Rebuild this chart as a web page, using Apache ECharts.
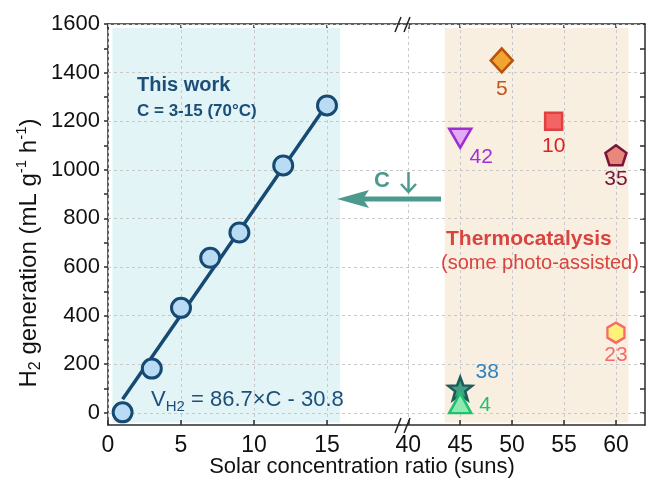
<!DOCTYPE html>
<html>
<head>
<meta charset="utf-8">
<script src="https://cdn.jsdelivr.net/npm/echarts@6/dist/echarts.min.js"></script>
<style>
  html, body { margin: 0; padding: 0; background: #fff; }
  #chart { width: 646px; height: 479px; }
</style>
</head>
<body>
<div id="chart"></div>
<script>
// this work: concentration ratio C vs H2 rate
const workC = [1, 3, 5, 7, 9, 12, 15];
const workV = [2, 182, 432, 638, 742, 1018, 1265];
// end points of the linear fit
const fitC = [1, 15];
const fitV = [56, 1270];
// literature points (thermocatalysis), ref numbers as labels
const refLabels = ['5', '10', '42', '35', '23', '38', '4'];
const refC = [49, 54, 45, 60, 60, 45, 45];
const refV = [1450, 1200, 1130, 1060, 330, 100, 40];
// ticks
const yMajor = [0, 200, 400, 600, 800, 1000, 1200, 1400, 1600];
const yAll = [0, 100, 200, 300, 400, 500, 600, 700, 800, 900, 1000, 1100, 1200, 1300, 1400, 1500, 1600];
const xTicksLeft = [0, 5, 10, 15];
const xTicksRight = [40, 45, 50, 55, 60];

const FONT = '"Liberation Sans", Arial, sans-serif';
const AXIS = '#2b2b2b';
const GRIDLINE = { show: true, lineStyle: { color: '#c9c9c9', type: [3, 3], width: 1 } };
const AXISLINE = { show: true, onZero: false, lineStyle: { color: AXIS, width: 1.5 } };
const plain = function (v) { return String(v); };

const starPath = 'path://M0,-1 L0.247,-0.34 L0.951,-0.309 L0.399,0.13 L0.588,0.809 L0,0.42 L-0.588,0.809 L-0.399,0.13 L-0.951,-0.309 L-0.247,-0.34 Z';
const pentPath = 'path://M0,-1 L0.951,-0.309 L0.588,0.809 L-0.588,0.809 L-0.951,-0.309 Z';
const hexPath = 'path://M0,-1 L0.866,-0.5 L0.866,0.5 L0,1 L-0.866,0.5 L-0.866,-0.5 Z';

const refStyle = [
  { symbol: 'diamond', size: [22, 24], rot: 0, fill: '#f2a433', stroke: '#b8520f', txt: '#c0561b', off: [0, 29] },
  { symbol: 'rect', size: [17, 17], rot: 0, fill: '#f46464', stroke: '#e0403e', txt: '#e01f1f', off: [0, 25] },
  { symbol: 'triangle', size: [22, 19], rot: 180, fill: '#e5aaf6', stroke: '#9d2fd2', txt: '#a12fd6', off: [21, 19] },
  { symbol: pentPath, size: [21, 20], rot: 0, fill: '#e8877c', stroke: '#7a1538', txt: '#7a1538', off: [0, 24] },
  { symbol: hexPath, size: [17, 20], rot: 0, fill: '#fff27a', stroke: '#f76a6a', txt: '#f76a6a', off: [0, 23] },
  { symbol: starPath, size: [24, 23], rot: 0, fill: '#3e9f82', stroke: '#1d5b5b', txt: '#2e82c4', off: [27, -16] },
  { symbol: 'triangle', size: [22, 20], rot: 0, fill: '#8fe9b2', stroke: '#1fc070', txt: '#1fc070', off: [25, 2] }
];

const chart = echarts.init(document.getElementById('chart'));

const refSeries = refLabels.map(function (lab, i) {
  const s = refStyle[i];
  const ser = {
    type: 'scatter',
    xAxisIndex: 2, yAxisIndex: 2,
    z: 3,
    symbol: s.symbol,
    symbolSize: s.size,
    symbolRotate: s.rot,
    itemStyle: { color: s.fill, borderColor: s.stroke, borderWidth: 2.5, opacity: 1 },
    label: {
      show: true, position: 'inside', offset: s.off,
      formatter: lab, color: s.txt, fontSize: 21, fontFamily: FONT
    },
    emphasis: { disabled: true },
    data: [[refC[i], refV[i]]]
  };
  if (i === 0) {
    ser.markArea = {
      silent: true, z: 1,
      itemStyle: { color: '#f8efe0' },
      data: [[{ xAxis: 43.5, yAxis: -40 }, { xAxis: 61.2, yAxis: 1584 }]]
    };
  }
  return ser;
});

chart.setOption({
  animation: false,
  textStyle: { fontFamily: FONT },
  grid: [
    { left: 108, top: 24, width: 292, bottom: 54 },
    { left: 400, top: 24, right: 1, bottom: 54 }
  ],
  xAxis: [
    { // 0: left bottom
      gridIndex: 0, type: 'value', position: 'bottom', min: 0, max: 20,
      axisLine: AXISLINE,
      axisTick: { show: true, inside: true, length: 5, customValues: xTicksLeft, lineStyle: { color: AXIS, width: 1.5 } },
      axisLabel: { customValues: xTicksLeft, formatter: plain, color: '#111', fontSize: 23, margin: 9, fontFamily: FONT },
      splitLine: GRIDLINE, z: 2
    },
    { // 1: left top
      gridIndex: 0, type: 'value', position: 'top', min: 0, max: 20,
      axisLine: AXISLINE,
      axisTick: { show: true, inside: true, length: 5, customValues: xTicksLeft, lineStyle: { color: AXIS, width: 1.5 } },
      axisLabel: { show: false }, splitLine: { show: false }
    },
    { // 2: right bottom
      gridIndex: 1, type: 'value', position: 'bottom', min: 39.2, max: 62.8,
      axisLine: AXISLINE,
      axisTick: { show: true, inside: true, length: 5, customValues: xTicksRight, lineStyle: { color: AXIS, width: 1.5 } },
      axisLabel: { customValues: xTicksRight, formatter: plain, color: '#111', fontSize: 23, margin: 9, fontFamily: FONT },
      splitLine: GRIDLINE, z: 2
    },
    { // 3: right top
      gridIndex: 1, type: 'value', position: 'top', min: 39.2, max: 62.8,
      axisLine: AXISLINE,
      axisTick: { show: true, inside: true, length: 5, customValues: xTicksRight, lineStyle: { color: AXIS, width: 1.5 } },
      axisLabel: { show: false }, splitLine: { show: false }
    }
  ],
  yAxis: [
    { // 0: left, labels + outward ticks
      gridIndex: 0, type: 'value', position: 'left', min: -50, max: 1600,
      axisLine: AXISLINE,
      axisTick: { show: true, inside: false, length: 4, customValues: yAll, lineStyle: { color: AXIS, width: 1.5 } },
      axisLabel: { customValues: yMajor, formatter: plain, color: '#111', fontSize: 22, margin: 8, fontFamily: FONT },
      splitLine: { show: false }
    },
    { // 1: left overlay for horizontal grid lines
      gridIndex: 0, type: 'value', position: 'left', min: -50, max: 1600,
      axisLine: { show: false }, axisLabel: { show: false },
      axisTick: { show: false, customValues: yMajor },
      splitLine: GRIDLINE, z: 2
    },
    { // 2: right axis, inward ticks
      gridIndex: 1, type: 'value', position: 'right', min: -50, max: 1600,
      axisLine: AXISLINE,
      axisTick: { show: true, inside: true, length: 5, customValues: yAll, lineStyle: { color: AXIS, width: 1.5 } },
      axisLabel: { show: false },
      splitLine: { show: false }
    },
    { // 3: right overlay for grid lines
      gridIndex: 1, type: 'value', position: 'right', min: -50, max: 1600,
      axisLine: { show: false }, axisLabel: { show: false },
      axisTick: { show: false, customValues: yMajor },
      splitLine: GRIDLINE, z: 2
    }
  ],
  series: [
    {
      type: 'line', xAxisIndex: 0, yAxisIndex: 0, z: 3,
      data: fitC.map(function (c, i) { return [c, fitV[i]]; }),
      showSymbol: false, symbol: 'none',
      lineStyle: { color: '#174a73', width: 3.5 },
      emphasis: { disabled: true },
      markArea: {
        silent: true, z: 1,
        itemStyle: { color: '#e2f4f5' },
        data: [[{ xAxis: 0.3, yAxis: -40 }, { xAxis: 15.9, yAxis: 1584 }]]
      }
    },
    {
      type: 'scatter', xAxisIndex: 0, yAxisIndex: 0, z: 4,
      data: workC.map(function (c, i) { return [c, workV[i]]; }),
      symbol: 'circle', symbolSize: 19,
      itemStyle: { color: '#b9dbf3', borderColor: '#174a73', borderWidth: 3, opacity: 1 },
      emphasis: { disabled: true }
    }
  ].concat(refSeries),
  graphic: [
    {
      type: 'text', x: 29, y: 253, rotation: Math.PI / 2, z: 10,
      style: {
        text: 'H{sub|2} generation (mL g{sup|-1} h{sup|-1})',
        align: 'center', verticalAlign: 'middle',
        fontSize: 24, fontFamily: FONT, fill: '#111', lineHeight: 30,
        rich: {
          sub: { fontSize: 16, lineHeight: 15, verticalAlign: 'bottom', fontFamily: FONT, fill: '#111' },
          sup: { fontSize: 15, lineHeight: 15, verticalAlign: 'top', fontFamily: FONT, fill: '#111' }
        }
      }
    },
    {
      type: 'text', x: 362, y: 467, z: 10,
      style: { text: 'Solar concentration ratio (suns)', align: 'center', verticalAlign: 'middle', fontSize: 22, fontFamily: FONT, fill: '#111' }
    },
    {
      type: 'text', x: 137, y: 85, z: 10,
      style: { text: 'This work', align: 'left', verticalAlign: 'middle', fontSize: 20, fontWeight: 'bold', fontFamily: FONT, fill: '#1b4f7a' }
    },
    {
      type: 'text', x: 137, y: 111, z: 10,
      style: { text: 'C = 3-15 (70°C)', align: 'left', verticalAlign: 'middle', fontSize: 17, fontWeight: 'bold', fontFamily: FONT, fill: '#1b4f7a' }
    },
    {
      type: 'text', x: 151, y: 400, z: 10,
      style: {
        text: 'V{sub|H2} = 86.7×C - 30.8', align: 'left', verticalAlign: 'middle',
        fontSize: 22, fontFamily: FONT, fill: '#1d4f7c', lineHeight: 28,
        rich: { sub: { fontSize: 15, lineHeight: 15, verticalAlign: 'bottom', fontFamily: FONT, fill: '#1d4f7c' } }
      }
    },
    {
      type: 'text', x: 374, y: 181, z: 10,
      style: { text: 'C', align: 'left', verticalAlign: 'middle', fontSize: 22, fontWeight: 'bold', fontFamily: FONT, fill: '#4c9a8d' }
    },
    // small down arrow next to C
    { type: 'line', z: 10, shape: { x1: 408.5, y1: 172, x2: 408.5, y2: 192 }, style: { stroke: '#4c9a8d', lineWidth: 2.5 } },
    { type: 'polyline', z: 10, shape: { points: [[401, 184], [408.5, 192], [416, 184]] }, style: { stroke: '#4c9a8d', lineWidth: 2.5, fill: null } },
    {
      type: 'line', z: 10,
      shape: { x1: 362, y1: 199, x2: 441, y2: 199 },
      style: { stroke: '#4c9a8d', lineWidth: 5 }
    },
    {
      type: 'polygon', z: 10,
      shape: { points: [[337, 199], [369, 190], [363, 199], [369, 208]] },
      style: { fill: '#4c9a8d' }
    },
    {
      type: 'text', x: 446, y: 239, z: 10,
      style: { text: 'Thermocatalysis', align: 'left', verticalAlign: 'middle', fontSize: 21, fontWeight: 'bold', fontFamily: FONT, fill: '#d8443f' }
    },
    {
      type: 'text', x: 441, y: 263, z: 10,
      style: { text: '(some photo-assisted)', align: 'left', verticalAlign: 'middle', fontSize: 20, fontFamily: FONT, fill: '#d8443f' }
    },
    // axis break marks
    { type: 'line', z: 10, shape: { x1: 395, y1: 32, x2: 401, y2: 17 }, style: { stroke: '#222', lineWidth: 1.5 } },
    { type: 'line', z: 10, shape: { x1: 404, y1: 32, x2: 410, y2: 17 }, style: { stroke: '#222', lineWidth: 1.5 } },
    { type: 'line', z: 10, shape: { x1: 395, y1: 433, x2: 401, y2: 418 }, style: { stroke: '#222', lineWidth: 1.5 } },
    { type: 'line', z: 10, shape: { x1: 404, y1: 433, x2: 410, y2: 418 }, style: { stroke: '#222', lineWidth: 1.5 } }
  ]
});
</script>
</body>
</html>
